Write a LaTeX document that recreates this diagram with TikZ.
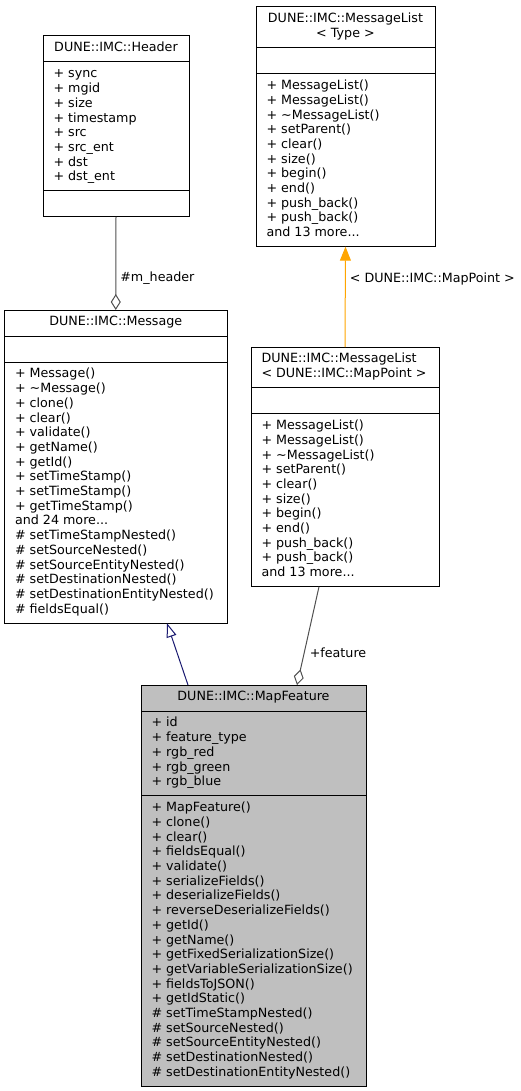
\documentclass[tikz,border=0pt]{standalone}
\usepackage{fontspec}
\setmainfont{DejaVu Sans}
\usetikzlibrary{arrows.meta,shapes.multipart}
\definecolor{grey75}{HTML}{BFBFBF}
\definecolor{grey25}{HTML}{505050}
\definecolor{midnightblue}{HTML}{191970}
\definecolor{doxyorange}{HTML}{FFA500}

\begin{document}
\begin{tikzpicture}[x=1pt,y=-1pt,line width=1pt,
                        class node/.style={rectangle split,rectangle split parts=3,draw=black,fill=white,
                        outer sep=0pt,inner xsep=10.5pt,inner ysep=5.15pt,anchor=north west,align=left,
                        rectangle split part align={center,left,left},font=\fontsize{12.7}{14.7}\selectfont},
                        member edge/.style={draw=grey25,-{Diamond[open,fill=white,length=16pt,width=10pt]}},
                        base edge/.style={draw=midnightblue,-{Triangle[open,fill=white,length=14pt,width=10pt]}},
                        template edge/.style={draw=doxyorange,-{Triangle[length=14pt,width=11pt]}},
                        edge label/.style={anchor=west,inner sep=0pt,font=\fontsize{12.7}{14.7}\selectfont}]
                        \useasboundingbox (0,0) rectangle (521,1091);

                        \node[class node,minimum width=146pt] (header) at (43,36) {\strut DUNE::IMC::Header
                        \nodepart{two}\strut + sync\\ + mgid\\ + size\\ + timestamp\\ + src\\ + src\_ent\\ + dst\\ + dst\_ent\strut
                        \nodepart{three}\strut};
                        \node[class node,minimum width=179pt] (msglist) at (256,7) {\strut DUNE::IMC::MessageList\\ \hfill< Type >\hfill\strut
                        \nodepart{two}\strut
                        \nodepart{three}\strut + MessageList()\\ + MessageList()\\ + \textasciitilde MessageList()\\ + setParent()\\ + clear()\\ + size()\\ + begin()\\ + end()\\ + push\_back()\\ + push\_back()\\ and 13 more...\strut};
                        \node[class node,minimum width=222.5pt] (message) at (4.5,310) {\strut DUNE::IMC::Message
                        \nodepart{two}\strut
                        \nodepart{three}\strut + Message()\\ + \textasciitilde Message()\\ + clone()\\ + clear()\\ + validate()\\ + getName()\\ + getId()\\ + setTimeStamp()\\ + setTimeStamp()\\ + getTimeStamp()\\ and 24 more...\\ \# setTimeStampNested()\\ \# setSourceNested()\\ \# setSourceEntityNested()\\ \# setDestinationNested()\\ \# setDestinationEntityNested()\\ \# fieldsEqual()\strut};
                        \node[class node,minimum width=188pt,rectangle split part align={left,left,left}] (pointlist) at (251,347) {\strut DUNE::IMC::MessageList\\ < DUNE::IMC::MapPoint >\strut
                        \nodepart{two}\strut
                        \nodepart{three}\strut + MessageList()\\ + MessageList()\\ + \textasciitilde MessageList()\\ + setParent()\\ + clear()\\ + size()\\ + begin()\\ + end()\\ + push\_back()\\ + push\_back()\\ and 13 more...\strut};
                        \node[class node,minimum width=225pt,fill=grey75] (feature) at (141,685) {\strut DUNE::IMC::MapFeature
                        \nodepart{two}\strut + id\\ + feature\_type\\ + rgb\_red\\ + rgb\_green\\ + rgb\_blue\strut
                        \nodepart{three}\strut + MapFeature()\\ + clone()\\ + clear()\\ + fieldsEqual()\\ + validate()\\ + serializeFields()\\ + deserializeFields()\\ + reverseDeserializeFields()\\ + getId()\\ + getName()\\ + getFixedSerializationSize()\\ + getVariableSerializationSize()\\ + fieldsToJSON()\\ + getIdStatic()\\ \# setTimeStampNested()\\ \# setSourceNested()\\ \# setSourceEntityNested()\\ \# setDestinationNested()\\ \# setDestinationEntityNested()\strut};

                        \path
                        (header.south) edge [member edge] node [edge label,pos=0.66,xshift=4pt] {\#m\_header} (message.north)
                        (pointlist.north) edge [template edge] node [edge label,pos=0.68,xshift=4pt] {< DUNE::IMC::MapPoint >} (msglist.south)
                        ([xshift=-26pt]pointlist.south) edge [member edge] node [edge label,pos=0.67,xshift=5pt] {+feature} ([xshift=43.5pt]feature.north)
                        ([xshift=-65.5pt]feature.north) edge [base edge] ([xshift=51.25pt]message.south)
                        ;
                        \end{tikzpicture}
\end{document}
